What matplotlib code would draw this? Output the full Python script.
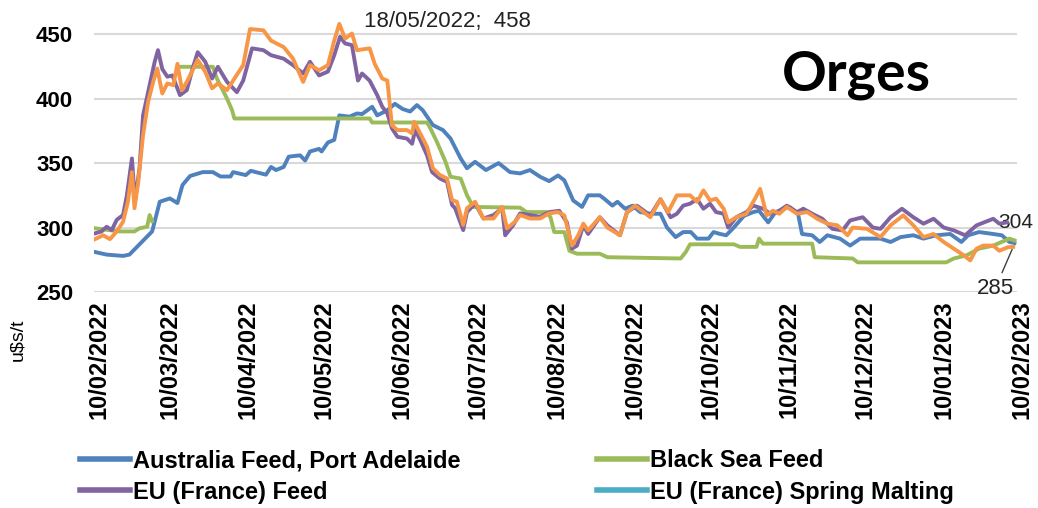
import numpy as np
import pandas as pd
import matplotlib
matplotlib.use("Agg")
import matplotlib.pyplot as plt
import matplotlib.dates as mdates
from matplotlib.lines import Line2D
from matplotlib.transforms import ScaledTranslation

# ---------------- data (days since 10/02/2022, US$/t) ----------------
start_date = "2022-02-10"
end_date = "2023-02-10"

au_days = [0.4, 5, 11.5, 14, 17, 19, 23, 26, 30, 33, 35, 38, 43, 47, 50, 54, 55, 60, 62, 68, 70, 72, 75, 77,
           81.5, 83.5, 85.4, 89, 90, 92.5, 95, 97, 101, 104, 106, 110, 112, 116, 119, 122, 125, 127.7, 130,
           134, 138, 141, 145, 147.5, 150.7, 155, 160, 164.5, 168.5, 172.4, 176.4, 180, 183.5, 186, 189.5,
           193, 195.4, 200, 202, 205, 207, 210, 213, 216, 220, 224, 226.6, 230, 233, 236, 238.5, 243, 245,
           247.6, 250, 253, 257, 260.7, 263, 266.6, 269, 272.5, 275, 278.4, 280, 284, 287, 290, 295, 299,
           303, 311, 315, 319, 324, 328, 333, 338.6, 343, 345.7, 350, 355.6, 359, 362, 364]
au_vals = [281, 279, 278, 279, 285, 289, 297, 320, 322.6, 319, 333, 340, 343, 343, 339.6, 339.6, 343, 340.7,
           344, 341, 347, 344.6, 347, 355, 356, 352, 359, 361, 359, 366, 368, 387, 386, 388.5, 388, 393.7,
           387, 391, 396, 392, 390, 395, 391, 379.5, 375.6, 369, 353.6, 346, 351, 344.6, 350, 343, 342,
           344.6, 339.4, 336, 340.4, 336.6, 321, 316, 325, 325, 322, 317, 320, 314.6, 317, 312, 310.7,
           310.7, 300, 292.6, 296.5, 296.5, 291.4, 291.4, 296.5, 295, 294, 300, 309, 312, 313, 304, 310.7,
           314.6, 316, 310.7, 295, 294, 288.8, 294, 291.4, 286, 291.4, 291.4, 288.8, 292.6, 294, 291.4,
           294, 295, 288.8, 294, 296.5, 295, 294, 288.8, 288]

# NaN = no quote published (gap in the series)
bs_days = [0.4, 10, 16, 18, 21, 22, 23, 24, 33, 47, 48.6, 52.6, 54.6, 55.5, 109, 110, 131.7, 133,
           135.6, 139, 141, 145, 147.5, 150, 168.5, 171, 179, 180.5, 182, 186, 188, 191, 200, 203, 232,
           234, 235.7, 253, 255.5, 262, 263, 264.5, 284, 285, 300, 302, 337, 340, 345, 350, 355.6, 362, 364]
bs_vals = [299.4, 297, 297, 299.4, 300.6, 309.7, 305, np.nan, 424.7, 424.7, 415.6, 400, 391, 384.6,
           384.6, 381.5, 381.5, 377, 366.5, 351, 339.4, 338, 325, 316, 315.4, 312, 312, 308, 296.5, 296.5,
           282, 279.7, 279.7, 277, 276, 281, 287, 287, 285, 285, 291.4, 287.5, 287.5, 277, 276, 273, 273,
           276, 278.4, 283.6, 286, 291.4, 290]

eu_days = [0.4, 3, 5, 7, 9, 11.5, 13, 15, 16.2, 18, 19.4, 22, 24, 25.3, 27, 29, 31, 34, 36.7, 39, 41, 44,
           46.7, 49, 52.6, 56.5, 59, 62.5, 67, 70, 75, 78.7, 82.7, 85.4, 89, 92.5, 95, 97.3, 99.3, 102,
           104.4, 106, 109, 112, 114, 116, 117.8, 120, 123.8, 125.8, 127, 129, 131.7, 133.7, 136.8, 139.6,
           141.6, 142.8, 146, 147.5, 150.7, 154, 158, 161.4, 162.6, 165.8, 168.5, 172.4, 176.4, 180, 184,
           187, 189, 191, 193.5, 195.4, 200, 203, 208, 210.8, 214.7, 220, 224, 228, 230.5, 233, 235.7,
           238.5, 241, 243.6, 246, 249, 250.8, 254, 258, 260.7, 264.6, 267.4, 271, 274, 278, 280.5, 284,
           288, 292, 296, 299, 304, 308, 311, 315, 319.5, 324, 328, 332, 336, 340, 344.5, 349, 355.6, 358,
           361]
eu_vals = [295.5, 297, 300.6, 298, 306, 309.7, 325, 353.6, 320, 346, 387, 410.5, 428.6, 437.6, 423, 417,
           418, 402.7, 406.6, 423.4, 436, 428.6, 415.6, 424.7, 413, 405, 414, 439, 437.6, 433.7, 431, 426,
           419.5, 428.6, 418, 421, 433.7, 448, 442.8, 441.5, 414, 419.5, 414, 402.7, 393.7, 388.5, 377,
           370.4, 369, 365, 375.6, 368, 356, 343, 338, 335.5, 317.5, 315, 298, 312, 318.7, 307, 309.7, 315,
           294, 302, 311, 309.7, 308.4, 312, 313, 304, 283.6, 286, 301.7, 295, 308, 301.7, 294, 312, 317,
           309.4, 322, 308, 310.7, 317, 318.5, 322, 314.6, 318.5, 312, 310.7, 300, 308, 312, 317, 314.6,
           310.7, 313, 317, 312, 314.6, 310.7, 306.8, 299, 297.8, 305.5, 308, 300, 299, 308, 314.6, 308,
           303, 306.8, 300, 297.8, 294, 301.7, 306.8, 303, 304]

or_days = [0.4, 3.6, 6.3, 9, 11.5, 13.4, 15, 16, 17.5, 19.4, 21.4, 23.4, 25, 27, 29, 31.4, 33, 34.8, 36.7,
           39, 41, 44, 46.7, 49, 52.6, 55, 59, 61.7, 67, 70, 75, 78.7, 82.7, 85.4, 89, 92.5, 95, 97, 99.3,
           102, 104, 109, 111, 114, 116, 117.8, 120, 123.8, 125.8, 126.6, 129, 131.7, 134, 136.8, 139.6,
           141.6, 143.5, 146, 147.5, 150.7, 154, 158, 161.4, 163.3, 166.5, 168.5, 172.4, 176.4, 180, 183.5,
           186, 189, 191.5, 193.5, 195.4, 200, 203, 208, 210.8, 214, 220, 224, 227, 230.5, 235.7, 238.5,
           241, 243.6, 246, 249, 250.8, 254, 258, 261.4, 263.4, 266, 268.5, 271, 274, 278, 282, 286, 290,
           294, 298, 300, 305.7, 311, 315, 320, 324, 328, 332, 336, 340, 344, 346.5, 349, 351.6, 355.6,
           358, 361.5, 363.5]
or_vals = [291, 294, 291, 297, 304.5, 320, 343, 315, 335.5, 371.7, 397.5, 413, 423.4, 404, 411.8, 410.5,
           427, 406.6, 413, 422, 430, 420.8, 408, 411.8, 406.6, 414, 426, 454, 453, 445, 440, 431, 413, 426,
           422, 426, 445, 458, 446.6, 450.5, 437.6, 439, 427, 415.6, 414, 379.5, 375.6, 375.6, 373, 382,
           373, 362.7, 346, 340.7, 338, 321.3, 320, 302, 315, 320, 307, 307, 316, 299.4, 304.5, 309.7, 307,
           307, 311, 312, 309.4, 286, 294, 303, 297.8, 308, 300, 294, 312, 317, 308, 322, 312, 325, 325,
           320, 328.8, 321, 322.4, 314.6, 304, 308, 310.7, 322.4, 330, 309.4, 313, 310.7, 316, 310.7, 312,
           306.8, 303, 301.7, 294, 300, 299, 292.6, 301.7, 309.4, 301.7, 292.6, 295, 288.8, 283.6, 278.4,
           274.5, 283.6, 286, 286, 282, 284.8, 285]

series_names = ["Australia Feed, Port Adelaide", "Black Sea Feed", "EU (France) Feed",
                "EU (France) Spring Malting"]
title_text = "Orges"
ylabel_text = "u$s/t"
peak_label = "18/05/2022;  458"

# ---------------- styling ----------------
C_BLUE, C_GREEN, C_PURPLE, C_CYAN, C_ORANGE = "#4F81BD", "#9BBB59", "#8064A2", "#4BACC6", "#F79646"
SANS = ["Liberation Sans", "DejaVu Sans"]

W, H, DPI = 1038, 508, 100
fig = plt.figure(figsize=(W / DPI, H / DPI), dpi=DPI)
ax = fig.add_axes([94 / W, 1 - 292 / H, (1017 - 94) / W, (292 - 20) / H])

t0 = pd.Timestamp(start_date)
def to_dates(days):
    return t0 + pd.to_timedelta(np.asarray(days, dtype=float), unit="D")

LW = 2.8
ax.plot(to_dates(au_days), au_vals, color=C_BLUE, lw=LW, solid_joinstyle="round", zorder=3)
ax.plot(to_dates(bs_days), bs_vals, color=C_GREEN, lw=LW, solid_joinstyle="round", zorder=4)
ax.plot(to_dates(eu_days), eu_vals, color=C_PURPLE, lw=LW, solid_joinstyle="round", zorder=5)
ax.plot(to_dates(or_days), or_vals, color=C_ORANGE, lw=LW, solid_joinstyle="round", zorder=6)

ax.set_ylim(250, 461)
ax.set_yticks([250, 300, 350, 400, 450])
ax.set_xlim(pd.Timestamp(start_date), pd.Timestamp(end_date))
ax.xaxis.set_major_locator(mdates.MonthLocator(bymonthday=10))
ax.xaxis.set_major_formatter(mdates.DateFormatter("%d/%m/%Y"))
ax.grid(axis="y", color="#D9D9D9", lw=1.5, zorder=0)
ax.set_axisbelow(True)
for s in ax.spines.values():
    s.set_visible(False)
ax.tick_params(axis="both", length=0)
ax.tick_params(axis="y", pad=15)
ax.tick_params(axis="x", pad=6)
for lab in ax.get_yticklabels():
    lab.set_fontfamily(SANS)
    lab.set_fontweight("bold")
    lab.set_fontsize(16)
off = ScaledTranslation(5 / DPI, 0, fig.dpi_scale_trans)
for lab in ax.get_xticklabels():
    lab.set_fontfamily(SANS)
    lab.set_fontweight("bold")
    lab.set_fontsize(17)
    lab.set_rotation(90)
    lab.set_va("top")
    lab.set_ha("center")
    lab.set_transform(lab.get_transform() + off)

fig.text(18 / W, 1 - 340 / H, ylabel_text, rotation=90, ha="center", va="center",
         fontsize=14, family=SANS)

ax.text(0.745, 1 - (75 - 20) / (292 - 20), title_text, transform=ax.transAxes,
        fontsize=40, fontweight="bold", family=["Lato", "DejaVu Sans"], ha="left", va="center")

# annotations
i_pk = int(np.nanargmax(or_vals))
ax.annotate(peak_label, xy=(to_dates([or_days[i_pk]])[0], or_vals[i_pk]),
            xytext=(18, 2), textcoords="offset points", ha="left", va="center",
            fontsize=16, family=SANS, color="#222222")
ax.annotate(f"{eu_vals[-1]:.0f}", xy=(to_dates([eu_days[-1]])[0], eu_vals[-1]),
            xytext=(-6, 0), textcoords="offset points", ha="left", va="center",
            fontsize=15, family=SANS, color="#222222", annotation_clip=False)
ax.annotate(f"{or_vals[-1]:.0f}", xy=(to_dates([or_days[-1]])[0], or_vals[-1]),
            xytext=(-13, -30), textcoords="offset points", ha="center", va="center",
            fontsize=16, family=SANS, color="#222222", annotation_clip=False,
            arrowprops=dict(arrowstyle="-", color="#404040", lw=1.0, shrinkA=2, shrinkB=2))

# legend (two columns)
h = [Line2D([], [], color=c, lw=4) for c in (C_BLUE, C_PURPLE, C_GREEN, C_CYAN)]
leg_kw = dict(frameon=False, handlelength=2.1, handletextpad=0.15,
              labelspacing=0.35, borderpad=0, borderaxespad=0, loc="center left",
              prop=dict(family=SANS, weight="bold", size=17))
leg1 = fig.legend(h[:2], [series_names[0], series_names[2]],
                  bbox_to_anchor=(80 / W, 1 - 476.5 / H), **leg_kw)
leg2 = fig.legend(h[2:], [series_names[1], series_names[3]],
                  bbox_to_anchor=(597 / W, 1 - 476.5 / H), **leg_kw)

fig.savefig("out.png", dpi=DPI)
